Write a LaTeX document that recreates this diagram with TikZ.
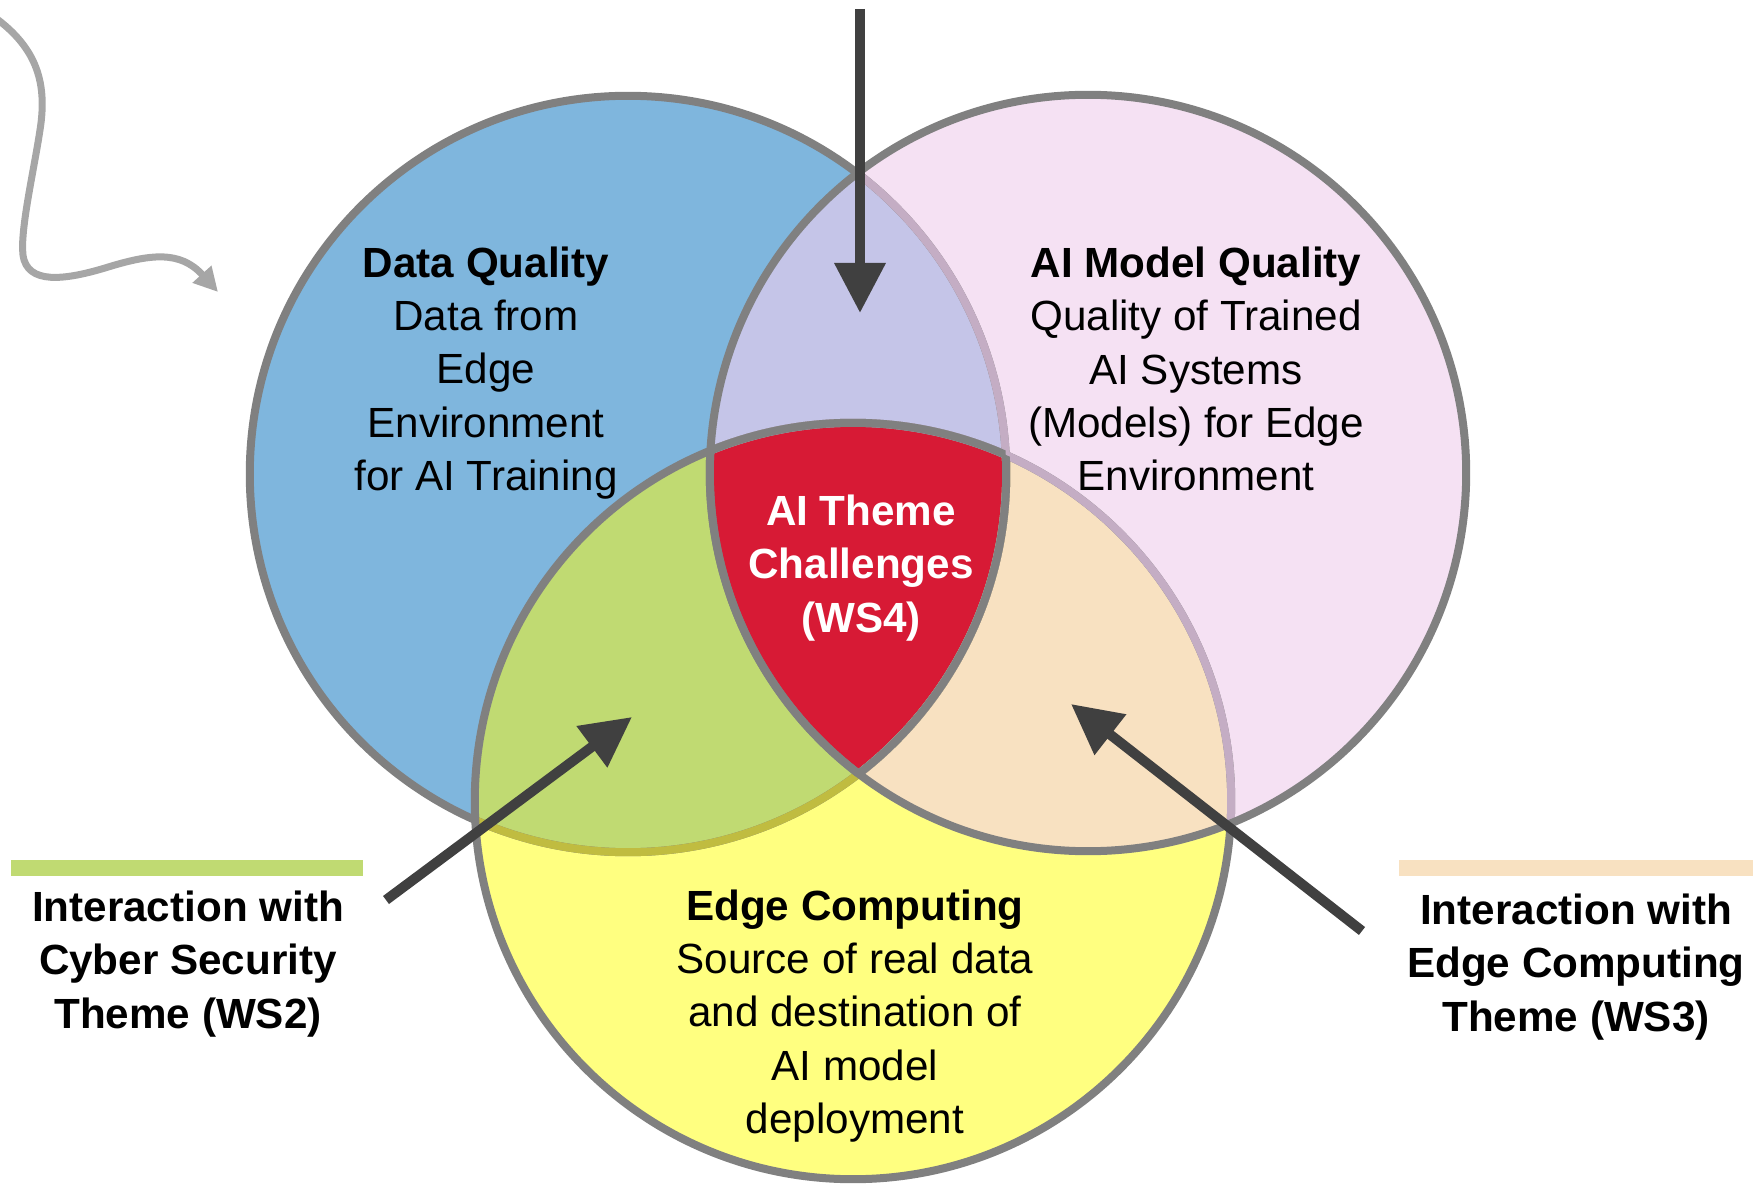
\documentclass[tikz,border=0pt]{standalone}
\usepackage{fontspec}
\setmainfont{Liberation Sans}
\usetikzlibrary{arrows.meta}

\definecolor{dqblue}{HTML}{7FB6DD}
\definecolor{mqpink}{HTML}{F5E1F3}
\definecolor{ecyellow}{HTML}{FFFF80}
\definecolor{dqmqlilac}{HTML}{C5C5E8}
\definecolor{dqecgreen}{HTML}{C0DA72}
\definecolor{mqecpeach}{HTML}{F8E1C1}
\definecolor{themered}{HTML}{D71A35}
\definecolor{ringgray}{HTML}{808080}
\definecolor{ringolive}{HTML}{C0BC40}
\definecolor{ringmauve}{HTML}{C4ADC4}
\definecolor{pointergray}{HTML}{404040}
\definecolor{squigglegray}{HTML}{A6A6A6}

\newcommand{\dqcircle}{(628,474) circle [radius=3.78cm]}
\newcommand{\mqcircle}{(1088,473) circle [radius=3.78cm]}
\newcommand{\eccircle}{(853,801) circle [radius=3.78cm]}

\tikzset{
  ring/.style={line width=0.08cm, draw=ringgray},
  venntext/.style={align=center, font=\fontsize{12}{15.1}\selectfont},
  pointer/.style={line width=0.1cm, draw=pointergray,
    -{Triangle[length=0.5cm, width=0.49cm]}},
}

\begin{document}
\begin{tikzpicture}[x=0.01cm, y=-0.01cm]
\useasboundingbox (0,0) rectangle (1753,1185);

% circle fills
\fill[dqblue] \dqcircle;
\fill[ecyellow] \eccircle;
\fill[mqpink] \mqcircle;

% overlaps
\begin{scope}
  \clip \dqcircle;
  \fill[dqmqlilac] \mqcircle;
  \fill[dqecgreen] \eccircle;
\end{scope}
\begin{scope}
  \clip \mqcircle;
  \fill[mqecpeach] \eccircle;
\end{scope}
\begin{scope}
  \clip \dqcircle;
  \clip \mqcircle;
  \fill[themered] \eccircle;
\end{scope}

% rings
\draw[ring] \dqcircle;
\begin{scope}
  \clip \eccircle;
  \draw[ring, draw=ringolive] \dqcircle;
\end{scope}
\draw[ring] \eccircle;
\begin{scope}
  \clip \mqcircle;
  \draw[ring, draw=ringmauve] \dqcircle;
  \draw[ring, draw=ringmauve] \eccircle;
\end{scope}
\draw[ring] \mqcircle;

% border of the centre
\begin{scope}
  \clip \mqcircle;
  \clip \eccircle;
  \draw[ring] \dqcircle;
\end{scope}
\begin{scope}
  \clip \dqcircle;
  \clip \eccircle;
  \draw[ring] \mqcircle;
\end{scope}
\begin{scope}
  \clip \dqcircle;
  \clip \mqcircle;
  \draw[ring] \eccircle;
\end{scope}

% texts
\node[venntext] (dq) at (486,373) {\textbf{Data Quality}\\Data from\\Edge\\Environment\\for AI Training};
\node[venntext] (mq) at (1196,369) {\textbf{AI Model Quality}\\Quality of Trained\\AI Systems\\(Models) for Edge\\Environment};
\node[venntext, text=white, font=\fontsize{12}{15.1}\selectfont\bfseries] (ws4) at (861,568) {AI Theme\\Challenges\\(WS4)};
\node[venntext] (ec) at (855,1016) {\textbf{Edge Computing}\\Source of real data\\and destination of\\AI model\\deployment};

% side labels
\fill[dqecgreen] (11,860) rectangle (363,876);
\fill[mqecpeach] (1399,860) rectangle (1753,876);
\node[venntext, font=\fontsize{12}{15.1}\selectfont\bfseries] (ws2) at (188,964) {Interaction with\\Cyber Security\\Theme (WS2)};
\node[venntext, font=\fontsize{12}{15.1}\selectfont\bfseries] (ws3) at (1576,967) {Interaction with\\Edge Computing\\Theme (WS3)};

% pointers
\coordinate (top tail) at (860,9);
\coordinate (top tip) at (860,313);
\coordinate (ws2 tail) at (386,900);
\coordinate (ws2 tip) at (632,717);
\coordinate (ws3 tail) at (1362,931);
\coordinate (ws3 tip) at (1071,704);
\draw[pointer] (top tail) -- (top tip);
\draw[pointer] (ws2 tail) -- (ws2 tip);
\draw[pointer] (ws3 tail) -- (ws3 tip);

% squiggle in the corner
\coordinate (squiggle start) at (-10,14);
\coordinate (squiggle end) at (218,292);
\draw[line width=0.07cm, squigglegray, -{Triangle[length=0.24cm, width=0.24cm]}]
  (squiggle start) .. controls (35,45) and (48,80) .. (40,130)
  .. controls (34,170) and (20,230) .. (23,255)
  .. controls (27,285) and (65,280) .. (105,268)
  .. controls (150,254) and (180,250) .. (squiggle end);
\end{tikzpicture}
\end{document}
